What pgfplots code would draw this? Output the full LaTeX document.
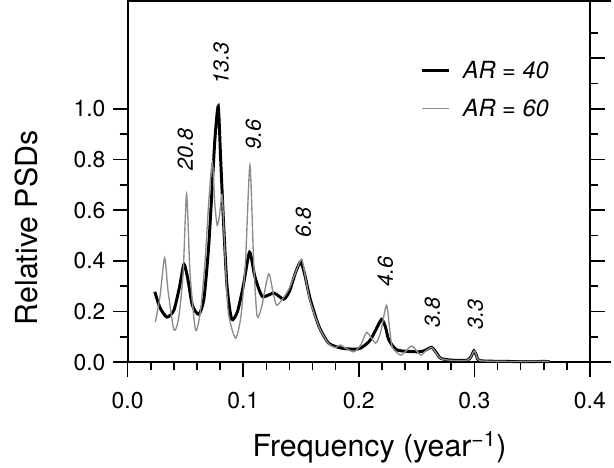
\documentclass[border=0pt]{standalone}
\usepackage{fontspec}
\setmainfont{TeX Gyre Heros}
\usepackage{pgfplots}
\pgfplotsset{compat=1.18}

% AR = 40 (thick black)
\pgfplotstableread{
x y
0.0235 0.278
0.028 0.215
0.034 0.178
0.040 0.205
0.045 0.300
0.0487 0.387
0.052 0.330
0.056 0.225
0.0616 0.189
0.066 0.250
0.070 0.450
0.073 0.680
0.0755 0.880
0.0784 1.010
0.0805 0.800
0.083 0.550
0.086 0.300
0.090 0.170
0.095 0.200
0.100 0.300
0.1055 0.434
0.110 0.340
0.1165 0.260
0.1266 0.273
0.135 0.249
0.140 0.280
0.145 0.350
0.1496 0.396
0.153 0.350
0.158 0.249
0.1655 0.142
0.174 0.075
0.1857 0.055
0.200 0.053
0.209 0.082
0.215 0.130
0.2197 0.169
0.223 0.140
0.226 0.088
0.2333 0.048
0.252 0.041
0.258 0.048
0.263 0.059
0.267 0.038
0.271 0.015
0.281 0.008
0.294 0.008
0.2975 0.025
0.2997 0.045
0.302 0.025
0.305 0.006
0.330 0.003
0.340 0.002
0.360 0.003
0.365 0.002
}\arforty

% AR = 60 (thin grey)
\pgfplotstableread{
x y
0.024 0.158
0.028 0.260
0.032 0.412
0.035 0.280
0.040 0.128
0.044 0.170
0.048 0.350
0.051 0.664
0.054 0.350
0.0587 0.128
0.063 0.200
0.067 0.400
0.070 0.620
0.0732 0.790
0.0755 0.620
0.0775 0.540
0.0795 0.580
0.0818 0.660
0.084 0.450
0.087 0.200
0.0933 0.095
0.098 0.180
0.102 0.400
0.1058 0.778
0.109 0.400
0.112 0.182
0.116 0.220
0.122 0.349
0.126 0.270
0.129 0.225
0.134 0.250
0.1396 0.289
0.145 0.350
0.1505 0.407
0.154 0.330
0.158 0.240
0.166 0.135
0.174 0.072
0.180 0.058
0.184 0.068
0.190 0.052
0.196 0.041
0.202 0.070
0.207 0.118
0.2145 0.075
0.219 0.120
0.224 0.225
0.227 0.120
0.229 0.059
0.236 0.028
0.241 0.045
0.246 0.064
0.2535 0.028
0.258 0.045
0.263 0.058
0.267 0.036
0.271 0.014
0.281 0.007
0.294 0.008
0.2975 0.025
0.300 0.045
0.302 0.025
0.305 0.006
0.330 0.003
0.360 0.004
0.365 0.002
}\arsixty

\begin{document}
\begin{tikzpicture}
\pgfplotsset{
  common/.style={
    scale only axis, width=343pt, height=268pt,
    xmin=0, xmax=0.4, ymin=0, ymax=1.426,
    axis line style={line width=1.5pt},
    tick style={line width=1.2pt, black},
    tick align=outside,
    major tick length=11pt, minor tick length=6pt,
  }
}
\begin{axis}[
  common,
  clip=false,
  xtick={0,0.1,0.2,0.3,0.4}, minor x tick num=4,
  ytick={0,0.2,0.4,0.6,0.8,1.0}, minor ytick={0.1,0.3,0.5,0.7,0.9},
  xtick pos=bottom, ytick pos=left,
  ticklabel style={font=\fontsize{17}{20}\selectfont},
  xticklabel style={yshift=-8pt},
  yticklabel style={xshift=-2pt},
  /pgf/number format/assume math mode=true,
  /pgf/number format/fixed, /pgf/number format/precision=1,
  /pgf/number format/fixed zerofill,
  xlabel={Frequency (year\textsuperscript{−1})},
  ylabel={Relative PSDs},
  every axis x label/.style={at={(axis description cs:0.545,0)}, anchor=center, yshift=-63pt, font=\fontsize{22.5}{26}\selectfont},
  every axis y label/.style={at={(axis description cs:-0.218,0.372)}, rotate=90, anchor=center, font=\fontsize{22.5}{26}\selectfont},
  legend style={draw=none, fill=none, at={(rel axis cs:0.625,0.85)}, anchor=north west,
    font=\fontsize{17.5}{21}\selectfont\itshape, row sep=10pt,
    /tikz/every odd column/.append style={column sep=7pt}},
  legend cell align=left,
  legend image code/.code={\draw[#1] (0pt,0pt) -- (20pt,0pt);},
]
\addplot[black, line width=2.2pt, smooth, tension=0.4] table {\arforty};
\addlegendentry{AR = 40}
\addplot[black!45, line width=1pt, smooth, tension=0.4] table {\arsixty};
\addlegendentry{AR = 60}

\begin{scope}[every node/.style={rotate=90, anchor=center, font=\fontsize{16}{19}\selectfont\itshape}]
\node at (axis cs:0.050,0.84) {20.8};
\node at (axis cs:0.0809,1.18) {13.3};
\node at (axis cs:0.1087,0.90) {9.6};
\node at (axis cs:0.152,0.55) {6.8};
\node at (axis cs:0.223,0.36) {4.6};
\node at (axis cs:0.2637,0.195) {3.8};
\node at (axis cs:0.301,0.19) {3.3};
\end{scope}
\draw[line width=1.5pt] (rel axis cs:1,0) -- ++(16pt,0);
\draw[line width=1.5pt] (rel axis cs:1,1) -- ++(16pt,0);
\end{axis}

\begin{axis}[
  common,
  hide x axis,
  axis y line*=right,
  ytick={0,0.2,0.4,0.6,0.8,1.0,1.2},
  minor ytick={0.1,0.3,0.5,0.7,0.9,1.1,1.3},
  yticklabels={},
]
\end{axis}
\path ([xshift=-8pt]current bounding box.west);
\end{tikzpicture}
\end{document}
